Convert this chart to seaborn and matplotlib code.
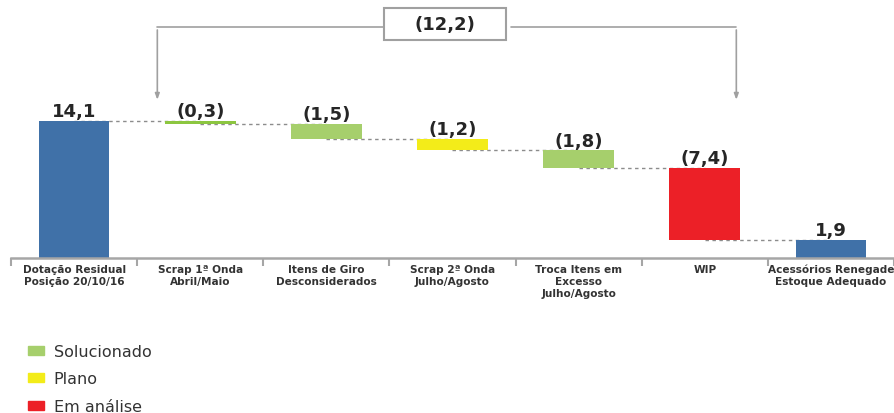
import matplotlib
matplotlib.use("Agg")
import matplotlib.pyplot as plt
import matplotlib.patches as mpatches
import numpy as np
import pandas as pd
import seaborn as sns

# Dados da cascata (milhões)
categorias = ["Dotação Residual\nPosição 20/10/16", "Scrap 1ª Onda\nAbril/Maio",
              "Itens de Giro\nDesconsiderados", "Scrap 2ª Onda\nJulho/Agosto",
              "Troca Itens em\nExcesso\nJulho/Agosto", "WIP",
              "Acessórios Renegade\nEstoque Adequado"]
variacoes = [14.1, -0.3, -1.5, -1.2, -1.8, -7.4, 1.9]
tipos = ["total", "Solucionado", "Solucionado", "Plano", "Solucionado", "Em análise", "total"]
rotulos = ["14,1", "(0,3)", "(1,5)", "(1,2)", "(1,8)", "(7,4)", "1,9"]
total_reducao = "(12,2)"

cores_tipo = {"total": "#4071A8", "Solucionado": "#A6CF6C", "Plano": "#F3EC19", "Em análise": "#EC2027"}
cores = [cores_tipo[t] for t in tipos]
cores[1] = "#8CC640"

# bases e alturas de cada barra
topo, base = [], []
nivel = 0.0
for i, v in enumerate(variacoes):
    if tipos[i] == "total":
        base.append(0.0)
        topo.append(v)
        nivel = v
    else:
        base.append(nivel + v)
        topo.append(nivel)
        nivel = nivel + v
df = pd.DataFrame({"cat": categorias, "altura": np.array(topo) - np.array(base), "base": base, "topo": topo})

sns.set_style("white")
fig = plt.figure(figsize=(8.94, 4.14), dpi=100)
ax = fig.add_axes([0.0123, 0.374, 0.9877, 0.626])

sns.barplot(data=df, x="cat", y="altura", bottom=df["base"].values, width=0.56,
            errorbar=None, ax=ax, linewidth=0, color=cores_tipo["total"], saturation=1)
for p, c in zip(ax.patches, cores):
    p.set_facecolor(c)

ax.set_xlim(-0.5, 6.5)
ax.set_ylim(0, 26.65)

# ligações tracejadas
niveis = [14.1, 13.8, 12.3, 11.1, 9.3, 1.9]
for i, y in enumerate(niveis):
    ax.plot([i, i + 1], [y, y], color="#8C8C8C", lw=1, ls=(0, (2.5, 2.5)), zorder=0)

# rótulos de valor
for i, r in enumerate(rotulos):
    ax.annotate(r, (i, df["topo"][i]), xytext=(0, 0.5), textcoords="offset points",
                ha="center", va="bottom", fontsize=13, fontweight="bold", color="#262626")

# chave superior com total
ax.add_patch(mpatches.Rectangle((2.455, 22.4), 0.97, 3.3, fill=False, ec="#A0A0A0", lw=1.5))
ax.text(2.94, 24.05, total_reducao, ha="center", va="center", fontsize=13,
        fontweight="bold", color="#262626")
ax.annotate("", xy=(0.66, 16.0), xytext=(0.66, 23.75),
            arrowprops=dict(arrowstyle="-|>,head_length=0.35,head_width=0.13", color="#A0A0A0", lw=1.2))
ax.plot([0.66, 2.455], [23.75, 23.75], color="#A0A0A0", lw=1.2)
ax.plot([3.465, 5.25], [23.75, 23.75], color="#A0A0A0", lw=1.2)
ax.annotate("", xy=(5.25, 16.0), xytext=(5.25, 23.75),
            arrowprops=dict(arrowstyle="-|>,head_length=0.35,head_width=0.13", color="#A0A0A0", lw=1.2))

# eixos
sns.despine(ax=ax, left=True, top=True, right=True)
ax.spines["bottom"].set_color("#A6A6A6")
ax.spines["bottom"].set_linewidth(1.8)
ax.set_yticks([])
ax.set_xlabel("")
ax.set_ylabel("")
ax.set_xticks(range(7))
ax.set_xticklabels(categorias, fontsize=7.6, fontweight="bold", color="#333333", linespacing=1.25)
ax.tick_params(axis="x", which="major", length=0, pad=4)
ax.set_xticks(np.arange(-0.5, 7, 1), minor=True)
ax.tick_params(axis="x", which="minor", bottom=True, length=6, color="#A6A6A6", width=1.5)

# legenda
handles = [mpatches.Patch(color=cores_tipo[k]) for k in ["Solucionado", "Plano", "Em análise"]]
fig.legend(handles, ["Solucionado", "Plano", "Em análise"], loc="upper left",
           bbox_to_anchor=(0.022, 0.186), frameon=False, fontsize=11.5,
           handlelength=1.05, handleheight=0.47, handletextpad=0.58, labelspacing=0.78,
           labelcolor="#333333", borderpad=0)

fig.savefig("out.png", dpi=100)
